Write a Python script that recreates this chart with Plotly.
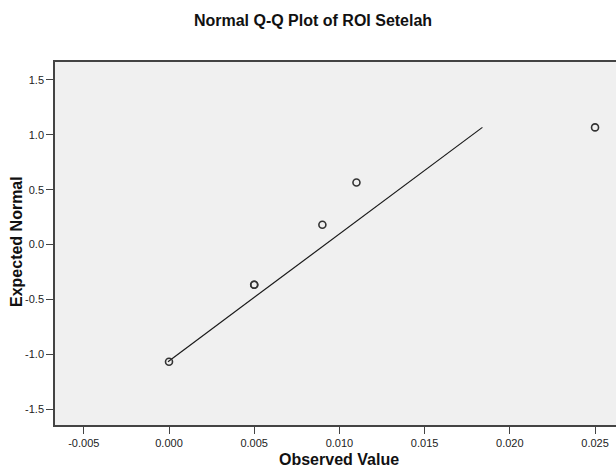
import plotly.graph_objects as go

# Data
observed = [0.000, 0.005, 0.005, 0.009, 0.011, 0.025]
expected = [-1.068, -0.366, -0.366, 0.180, 0.566, 1.068]
line_x = [-0.00006, 0.01839]
line_y = [-1.068, 1.068]
x_ticks = [-0.005, 0.000, 0.005, 0.010, 0.015, 0.020, 0.025]
x_tick_text = ["-0.005", "0.000", "0.005", "0.010", "0.015", "0.020", "0.025"]
y_ticks = [-1.5, -1.0, -0.5, 0.0, 0.5, 1.0, 1.5]
y_tick_text = ["-1.5", "-1.0", "-0.5", "0.0", "0.5", "1.0", "1.5"]

FONT = "Liberation Sans, Arial, sans-serif"

fig = go.Figure()
fig.add_trace(go.Scatter(
    x=line_x, y=line_y, mode="lines",
    line=dict(color="#1a1a1a", width=1.2),
    hoverinfo="skip", showlegend=False))
fig.add_trace(go.Scatter(
    x=observed, y=expected, mode="markers",
    marker=dict(symbol="circle-open", size=7, color="#333333",
                line=dict(width=1.6, color="#333333")),
    showlegend=False))

fig.update_layout(
    width=616, height=468,
    margin=dict(l=55, r=0, t=62, b=43),
    paper_bgcolor="white", plot_bgcolor="#F0F0F0",
    font=dict(family=FONT, size=11, color="#222222"),
    title=dict(text="<b>Normal Q-Q Plot of ROI Setelah</b>",
               x=313/616, xanchor="center", y=1 - 20/468, yanchor="middle",
               font=dict(family=FONT, size=16, color="#111111")),
    showlegend=False,
)
fig.update_xaxes(
    range=[-0.00669, 0.02623], tickvals=x_ticks, ticktext=x_tick_text,
    showgrid=False, zeroline=False, showline=True, linecolor="#444444",
    linewidth=1.5, mirror=True, ticks="outside", ticklen=7, tickwidth=1.2,
    tickcolor="#444444", tickfont=dict(size=11, color="#222222"))
fig.update_yaxes(
    range=[-1.645, 1.664], tickvals=y_ticks, ticktext=y_tick_text,
    showgrid=False, zeroline=False, showline=True, linecolor="#444444",
    linewidth=1.5, ticks="outside", ticklen=7, tickwidth=1.2,
    tickcolor="#444444", tickfont=dict(size=11, color="#222222"))

fig.add_annotation(text="<b>Observed Value</b>", xref="paper", yref="paper",
                   x=(339 - 55) / 561, y=(425 - 459) / 363, xanchor="center",
                   yanchor="middle", showarrow=False,
                   font=dict(family=FONT, size=16, color="#111111"))
fig.add_annotation(text="<b>Expected Normal</b>", xref="paper", yref="paper",
                   x=(16 - 55) / 561, y=(425 - 242) / 363, xanchor="center",
                   yanchor="middle", textangle=-90, showarrow=False,
                   font=dict(family=FONT, size=16, color="#111111"))

fig.write_html(
    "out.html",
    config={"displayModeBar": False},
    post_script="document.body.style.margin='0';document.body.style.overflow='hidden';",
)
